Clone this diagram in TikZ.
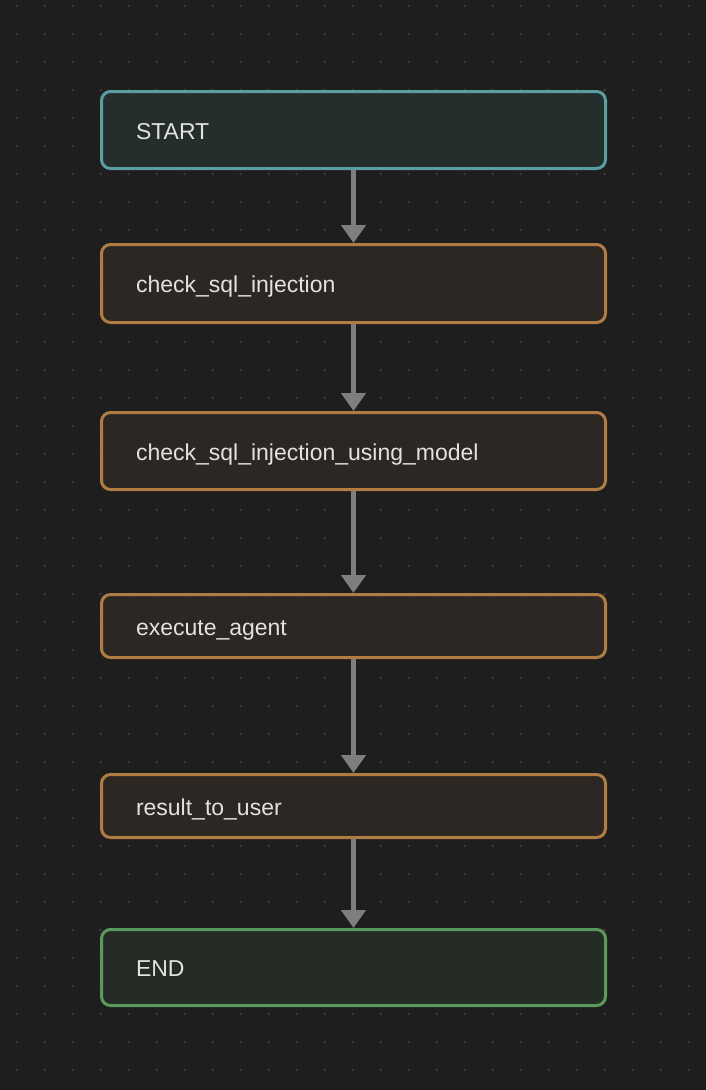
\documentclass[tikz,border=0pt]{standalone}
\usepackage{fontspec}
\setmainfont{Liberation Sans}
\usetikzlibrary{arrows.meta, positioning}
\definecolor{canvasbg}{HTML}{1E1E1E}
\definecolor{griddot}{HTML}{3A3A3A}
\definecolor{startfill}{HTML}{252D2D}
\definecolor{startedge}{HTML}{5B9EA0}
\definecolor{stepfill}{HTML}{2C2723}
\definecolor{stepedge}{HTML}{B07C44}
\definecolor{endfill}{HTML}{252B25}
\definecolor{endedge}{HTML}{5A9A5C}
\definecolor{flowgray}{HTML}{7E7E7E}
\definecolor{labeltext}{HTML}{E2E2E2}

\begin{document}
\begin{tikzpicture}[x=1pt, y=-1pt,
    every node/.style={font=\fontsize{23}{27}\selectfont, text=labeltext}]
    \tikzset{
      flowbox/.style={rectangle, rounded corners=9pt, line width=3pt,
                      minimum width=504pt, text width=435pt, align=left,
                      text height=20pt, text depth=1.4pt,
                      inner xsep=34.5pt, inner ysep=0pt},
      startbox/.style={flowbox, draw=startedge, fill=startfill},
      stepbox/.style={flowbox, draw=stepedge, fill=stepfill},
      endbox/.style={flowbox, draw=endedge, fill=endfill},
      flow/.style={-{Triangle[width=24pt, length=18pt]}, line width=5pt, draw=flowgray}}
    % canvas and dot grid
    \useasboundingbox (0,0) rectangle (706,1090);
    \fill[canvasbg] (0,0) rectangle (706,1090);
    \foreach \i in {0,...,25} {
      \foreach \j in {0,...,38} {
        \fill[griddot] (16.7+28*\i, 6+28*\j) circle (1.5pt);
      }
    }
    % nodes
    \node[startbox, minimum height=77pt] (start) at (353.5,130)   {START};
    \node[stepbox, minimum height=78pt]  (sqli)  at (353.5,283.5) {check\_sql\_injection};
    \node[stepbox, minimum height=77pt]  (model) at (353.5,451)   {check\_sql\_injection\_using\_model};
    \node[stepbox, minimum height=63pt]  (agent) at (353.5,626)   {execute\_agent};
    \node[stepbox, minimum height=63pt]  (user)  at (353.5,806)   {result\_to\_user};
    \node[endbox, minimum height=76pt]   (end)   at (353.5,967.5) {END};
    % edges
    \draw[flow] (start) -- (sqli);
    \draw[flow] (sqli) -- (model);
    \draw[flow] (model) -- (agent);
    \draw[flow] (agent) -- (user);
    \draw[flow] (user) -- (end);
  \end{tikzpicture}
\end{document}
